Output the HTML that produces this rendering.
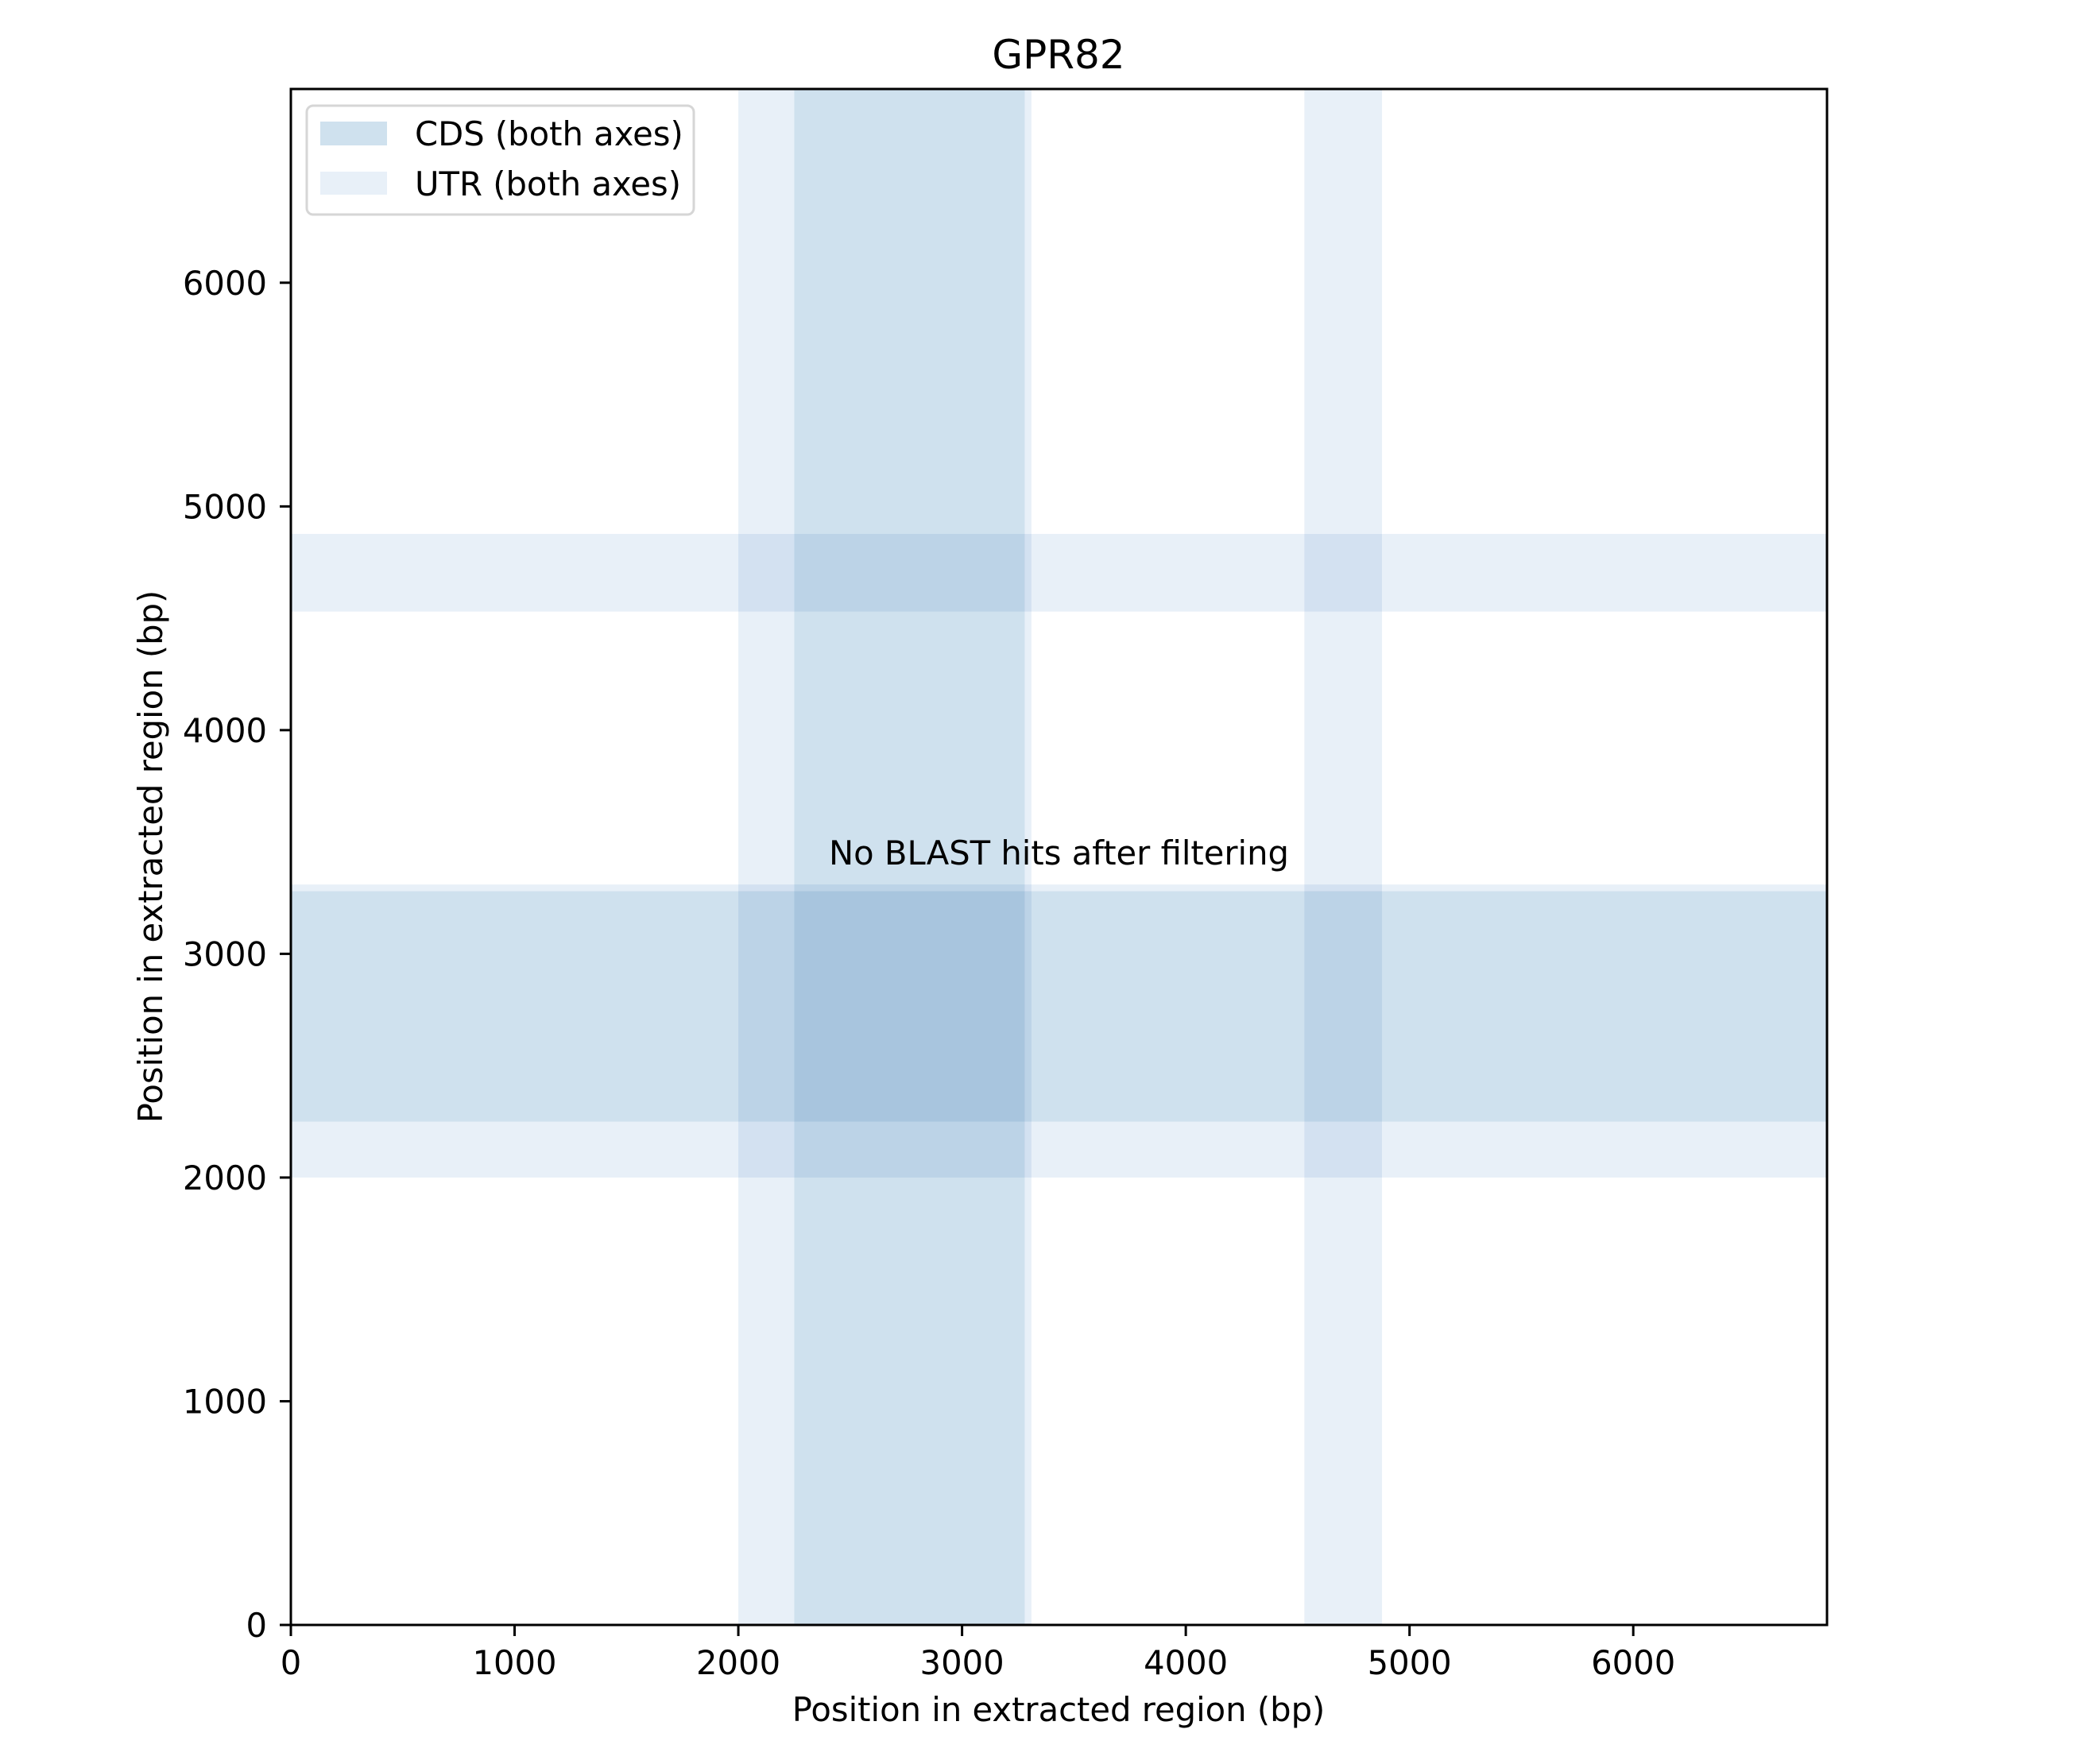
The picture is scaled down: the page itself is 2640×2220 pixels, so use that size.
<!DOCTYPE html>
<html><head><meta charset="utf-8"><style>
html,body{margin:0;padding:0;background:#fff;}
svg{display:block;font-family:"DejaVu Sans","Liberation Sans",sans-serif;}
.band{mix-blend-mode:multiply;}
</style></head><body>
<svg id="chart" width="2640" height="2220" viewBox="0 0 2640 2220">
<rect x="0" y="0" width="2640" height="2220" fill="#fff"/>
<g id="bands" style="isolation:isolate"></g>
<g id="axes"></g>
<text x="1332" y="86" font-size="50" text-anchor="middle" fill="#000">GPR82</text>
<text id="note" text-anchor="middle" font-size="41.7" fill="#000">No BLAST hits after filtering</text>
<text x="1332" y="2166" font-size="41.7" text-anchor="middle" fill="#000">Position in extracted region (bp)</text>
<text x="0" y="0" font-size="41.7" text-anchor="middle" fill="#000" transform="translate(204,1078) rotate(-90)">Position in extracted region (bp)</text>
<g>
<rect x="386" y="133" width="487" height="137" rx="8" fill="#fff" fill-opacity="0.8" stroke="#d6d6d6" stroke-width="3"/>
<rect x="403" y="153" width="84" height="30" fill="#cfe1ee"/>
<text x="522" y="183" font-size="41.7" fill="#000">CDS (both axes)</text>
<rect x="403" y="216" width="84" height="29" fill="#e8f0f8"/>
<text x="522" y="246" font-size="41.7" fill="#000">UTR (both axes)</text>
</g>
</svg>
<script>
const seqLength = 6866;
const utrRegions = [[2000, 3310], [4530, 4877]];
const cdsRegions = [[2250, 3280]];
const tickValues = [0, 1000, 2000, 3000, 4000, 5000, 6000];
const tickLabels = ["0", "1000", "2000", "3000", "4000", "5000", "6000"];
const noteY = 3400;

const L = 366, R = 2299, T = 112, B = 2045;
const NS = "http://www.w3.org/2000/svg";
const xs = v => L + (v / seqLength) * (R - L);
const ys = v => B - (v / seqLength) * (B - T);

const bands = document.getElementById('bands');
function band(x, y, w, h, fill, name) {
  const r = document.createElementNS(NS, 'rect');
  r.setAttribute('x', x); r.setAttribute('y', y);
  r.setAttribute('width', w); r.setAttribute('height', h);
  r.setAttribute('fill', fill);
  r.setAttribute('class', 'band');
  
  
  bands.appendChild(r);
}
utrRegions.forEach(([a, b]) => {
  band(xs(a), T, xs(b) - xs(a), B - T, '#e8f0f8', 'utr-band-x');
  band(L, ys(b), R - L, ys(a) - ys(b), '#e8f0f8', 'utr-band-y');
});
cdsRegions.forEach(([a, b]) => {
  band(xs(a), T, xs(b) - xs(a), B - T, '#e4eff5', 'cds-band-x');
  band(L, ys(b), R - L, ys(a) - ys(b), '#e4eff5', 'cds-band-y');
});

const note = document.getElementById('note');
note.setAttribute('x', (L + R) / 2);
note.setAttribute('y', ys(noteY));

const axes = document.getElementById('axes');
function el(tag, attrs, name, text) {
  const e = document.createElementNS(NS, tag);
  for (const k in attrs) e.setAttribute(k, attrs[k]);
  
  
  if (text !== undefined) e.textContent = text;
  axes.appendChild(e);
  return e;
}
el('rect', {x: L, y: T, width: R - L, height: B - T, fill: 'none', stroke: '#000', 'stroke-width': 3}, 'plot-frame');
tickValues.forEach((v, i) => {
  const x = xs(v), y = ys(v);
  el('line', {x1: x, x2: x, y1: B, y2: B + 14, stroke: '#000', 'stroke-width': 3}, 'x-tick');
  el('text', {x: x, y: 2107, 'font-size': 41.7, 'text-anchor': 'middle', fill: '#000'}, 'x-tick-label', tickLabels[i]);
  el('line', {x1: L - 14, x2: L, y1: y, y2: y, stroke: '#000', 'stroke-width': 3}, 'y-tick');
  el('text', {x: 336, y: y + 15, 'font-size': 41.7, 'text-anchor': 'end', fill: '#000'}, 'y-tick-label', tickLabels[i]);
});
</script>
</body></html>
